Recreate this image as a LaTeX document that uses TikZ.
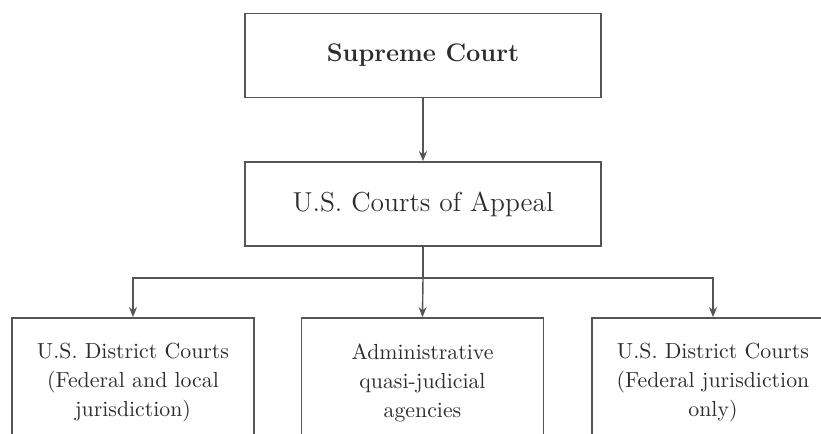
\documentclass[tikz,border=0pt]{standalone}
\usetikzlibrary{arrows.meta}
\definecolor{linegray}{RGB}{85,85,85}
\definecolor{textgray}{RGB}{45,45,45}
\tikzset{
  courtbox/.style={draw=linegray, line width=0.9pt, rectangle, align=center,
    text=textgray, inner sep=0pt},
  toprow/.style={courtbox, minimum width=178pt, minimum height=42pt,
    font=\fontsize{13.7}{16}\selectfont},
  lowrow/.style={courtbox, minimum width=121pt, minimum height=65pt,
    font=\fontsize{10.9}{14.5}\selectfont},
  link/.style={draw=linegray, line width=0.7pt},
  arr/.style={link, -{Stealth[length=5pt, width=4pt]}}
}
\begin{document}
\begin{tikzpicture}[x=0.5pt, y=-0.5pt]
\useasboundingbox (0,0) rectangle (821,434);
\clip (0,0) rectangle (821,434);
% upper courts
\node[toprow, font=\fontsize{12.7}{16}\selectfont\bfseries] (supreme) at (423,55.5) {Supreme Court};
\node[toprow] (appeal) at (423,204) {U.S. Courts of Appeal};
% lower courts
\node[lowrow] (district) at (133,383) {U.S. District Courts\\(Federal and local\\jurisdiction)};
\node[lowrow] (agency) at (422.5,383) {Administrative\\quasi-judicial\\agencies};
\node[lowrow] (federal) at (713,383) {U.S. District Courts\\(Federal jurisdiction\\only)};
\coordinate (split) at (appeal.south |- 0,278);
\draw[arr] (supreme) -- (appeal);
\draw[link] (appeal.south) -- (split);
\draw[arr] (split) -- (agency.north);
\draw[arr] (split) -| (district.north);
\draw[arr] (split) -| (federal.north);
\end{tikzpicture}
\end{document}
